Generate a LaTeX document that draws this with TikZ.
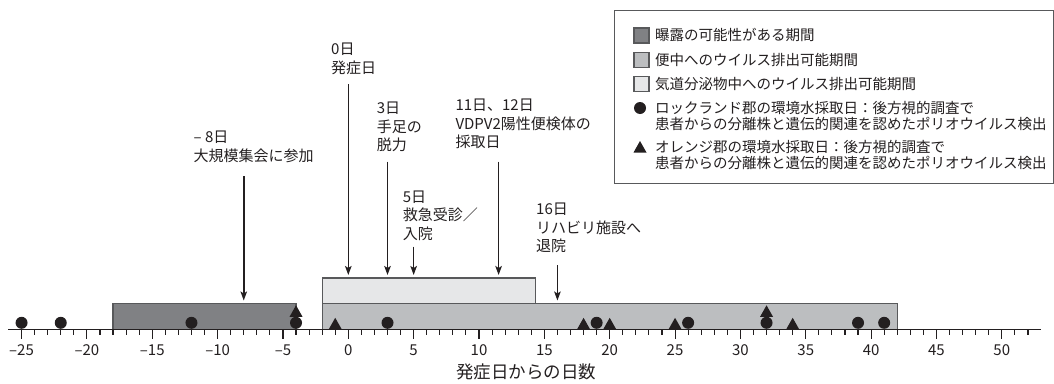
\documentclass[tikz,border=0pt]{standalone}
\usepackage{fontspec}
\setmainfont{Noto Sans CJK JP}
\usetikzlibrary{arrows.meta}
\definecolor{expo}{HTML}{808184}
\definecolor{fecal}{HTML}{BCBEC0}
\definecolor{resp}{HTML}{E6E7E8}
\definecolor{edge}{HTML}{58595B}
\definecolor{ink}{HTML}{231F20}
\begin{document}
\begin{tikzpicture}[x=1pt,y=-1pt,
  bar/.style={draw=edge,line width=1.2pt},
  ann/.style={anchor=north west,inner sep=0pt,align=left,font=\fontsize{15}{18.5}\selectfont,text=ink},
  legtext/.style={anchor=north west,inner sep=0pt,align=left,font=\fontsize{14.5}{16.5}\selectfont,text=ink},
  callout/.style={draw=ink,line width=1.6pt,-{Stealth[length=9pt,width=6.5pt,inset=2pt]}},
  axisline/.style={draw=ink,line width=1.1pt},
  ticklab/.style={inner sep=0pt,font=\fontsize{15}{15}\selectfont,text=ink},
]
\def\ox{348.3}
\def\ux{13.07}
\useasboundingbox (0,0) rectangle (1054,383);
\fill[white] (0,0) rectangle (1054,383);

% bars
\draw[bar,fill=expo] ({\ox+\ux*(-18)},303.3) rectangle ({\ox+\ux*(-4)},329.3);
\draw[bar,fill=fecal] ({\ox+\ux*(-2)},303.3) rectangle ({\ox+\ux*42},329.3);
\draw[bar,fill=resp] ({\ox+\ux*(-2)},278) rectangle ({\ox+\ux*14.3},303.3);

% axis
\draw[axisline] ({\ox+\ux*(-26)},329.3) -- ({\ox+\ux*53},329.3);
\foreach \d in {-25,...,52}{
  \pgfmathsetmacro\tl{mod(\d,5)==0 ? 10 : 6}
  \draw[axisline] ({\ox+\ux*\d},329.3) -- ++(0,\tl);
}
\foreach \d in {-25,-20,...,50}{
  \node[ticklab] (t\d) at ({\ox+\ux*\d},350.5) {\ifnum\d<0 –\number\numexpr-\d\relax\else\d\fi};
}
\node[inner sep=0pt,font=\fontsize{17.5}{17.5}\selectfont,text=ink] (title) at (526,372) {発症日からの日数};

% markers
\foreach \d in {-25,-22,-12,-4,3,19,26,32,39,41}
  \fill[ink] ({\ox+\ux*\d},322.8) circle (6);
\foreach \d in {-1,18,20,25,34}
  \fill[ink] ({\ox+\ux*\d-6.5},329.3) -- ++(13,0) -- ++(-6.5,-11.5) -- cycle;
\foreach \d in {-4,32}
  \fill[ink] ({\ox+\ux*\d-6.5},316.8) -- ++(13,0) -- ++(-6.5,-11.5) -- cycle;

% annotations
\node[ann] (nm8) at (193.5,131) {– 8日\\大規模集会に参加};
\node[ann] (n0) at (331,43) {0日\\発症日};
\node[ann] (n3) at (376.7,102) {3日\\手足の\\脱力};
\node[ann] (n11) at (455.3,99) {11日、12日\\VDPV2陽性便検体の\\採取日};
\node[ann] (n5) at (402.7,190.5) {5日\\救急受診／\\入院};
\node[ann] (n16) at (536,203) {16日\\リハビリ施設へ\\退院};

\coordinate (sm8) at ({\ox+\ux*(-8)},176);  \coordinate (em8) at ({\ox+\ux*(-8)},300.5);
\coordinate (s0) at ({\ox},84);            \coordinate (e0) at ({\ox},275);
\coordinate (s3) at ({\ox+\ux*3},161.7);   \coordinate (e3) at ({\ox+\ux*3},275);
\coordinate (s11) at ({\ox+\ux*11.5},161.7); \coordinate (e11) at ({\ox+\ux*11.5},275);
\coordinate (s5) at ({\ox+\ux*5},246.7);   \coordinate (e5) at ({\ox+\ux*5},275);
\coordinate (s16) at ({\ox+\ux*16},265);   \coordinate (e16) at ({\ox+\ux*16},300.5);
\foreach \a in {m8,0,3,11,5,16}
  \draw[callout] (s\a) -- (e\a);

% legend
\draw[draw=edge,line width=0.9pt] (614,10) rectangle (1053,183);
\draw[bar,fill=expo] (634,28) rectangle (649,43);
\draw[bar,fill=fecal] (634,52.5) rectangle (649,67.5);
\draw[bar,fill=resp] (634,76.5) rectangle (649,91.5);
\fill[ink] (640,108) circle (6);
\fill[ink] (633.5,152.5) -- ++(13,0) -- ++(-6.5,-11.5) -- cycle;
\node[legtext] (l1) at (655,28) {曝露の可能性がある期間};
\node[legtext] (l2) at (655,53) {便中へのウイルス排出可能期間};
\node[legtext] (l3) at (655,77) {気道分泌物中へのウイルス排出可能期間};
\node[legtext] (l4) at (655,100.7) {ロックランド郡の環境水採取日：後方視的調査で\\患者からの分離株と遺伝的関連を認めたポリオウイルス検出};
\node[legtext] (l5) at (655,139.7) {オレンジ郡の環境水採取日：後方視的調査で\\患者からの分離株と遺伝的関連を認めたポリオウイルス検出};
\end{tikzpicture}
\end{document}
